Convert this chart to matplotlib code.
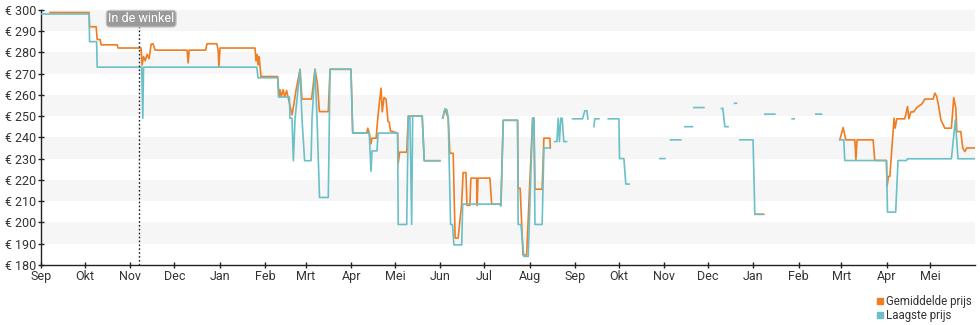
import numpy as np
import pandas as pd
import matplotlib
matplotlib.use("Agg")
import matplotlib.pyplot as plt
import matplotlib.dates as mdates
from matplotlib.lines import Line2D

plt.rcParams['font.family'] = ['Roboto', 'DejaVu Sans']

nan = np.nan
start = pd.Timestamp('2022-09-01')
maanden = ['Jan', 'Feb', 'Mrt', 'Apr', 'Mei', 'Jun', 'Jul', 'Aug', 'Sep', 'Okt', 'Nov', 'Dec']

# dagen sinds 1 sep, nan = geen prijs bekend
dagen_laagste = [
    0, 32.8, 33.1, 37.9, 38.3, 68.7, 69.5, 70.0, 147.4, 148.3, 161.7, 162.3, 169.7, 170.1,
    171.5, 172.4, 173.6, 177.0, 178.3, 180.1, 184.5, 185.2, 187.2, 188.6, 190.3, 196.3,
    197.5, 211.8, 213.0, 224.3, 225.5, 226.2, 229.6, 230.3, 243.7, 244.1, 249.9, 251.0,
    252.1, 253.3, 254.0, 260.5, 261.9, 272.6, 273.5,
    274.5, 276.1, 277.4, 278.3, 279.9, 281.2, 282.2, 287.5, 288.2, 313.6, 314.3, 315.9,
    325.7, 326.1, 328.0, 330.0, 333.0, 336.0, 336.9, 337.6, 342.5, 343.7, 347.8, 349.0,
    351.2, 352.6, 353.5, 354.3, 355.3, 356.2, 357.3, 359.2, 361.0,
    363.3, 370.1, 371.7, 373.1, 373.8, 375.0,
    377.9, 378.5, 381.3, 384.0,
    387.7, 395.0, 395.4, 398.4, 399.7, 402.0, 410.0,
    423.0, 426.4, 428.0,
    430.3, 437.3, 439.0,
    440.0, 445.3, 445.8,
    446.2, 453.1, 460.0,
    465.1, 466.0, 467.4, 469.6, 472.0,
    474.0, 475.4, 476.5,
    477.6, 486.7, 487.9, 493.1, 494.0,
    494.7, 501.6, 508.0,
    513.4, 514.8, 520.0,
    529.6, 533.5, 540.0,
    546.0, 548.7, 549.4, 577.9, 578.6, 584.2, 585.8, 591.5, 592.4, 622.3, 625.0, 626.8,
    638.5,
]
prijs_laagste = [
    298, 298, 285, 285, 273, 273, 249, 273, 273, 268, 268, 259, 259, 249,
    249, 229, 249, 272, 249, 229, 229, 249, 272, 249, 211.7, 211.7,
    272, 272, 242, 242, 224, 233.6, 233.6, 242, 242, 199, 199, 250,
    250, 199, 250, 250, 229, 229, nan,
    249, 253.3, 253, 249, 199, 199, 189.4, 189.4, 208.6, 208.6, 207.8, 248,
    248, 199, 199, 184, 184, 249, 249, 199, 199, 235, 235, nan,
    238, 238, 249, 238, 249, 249, 238, 238, nan,
    248.7, 248.7, 252.5, 252.5, 248.7, nan,
    245, 248.7, 248.7, nan,
    248.7, 248.7, 230, 230, 218, 218, nan,
    230, 230, nan,
    238.8, 238.8, nan,
    245, 245, nan,
    254, 254, nan,
    253.6, 253.6, 245, 245, nan,
    256, 256, nan,
    238.8, 238.8, 203.8, 203.8, nan,
    250.9, 250.9, nan,
    248.7, 248.7, nan,
    250.9, 250.9, nan,
    238.8, 238.8, 229.1, 229.1, 204.8, 204.8, 229.1, 229.1, 229.9, 229.9, 248.2, 229.9,
    229.9,
]

dagen_gemiddeld = [
    6.1, 32.8, 33.1, 37.6, 38.3, 40.3, 41.0, 51.9, 52.6, 68.3, 69.0, 70.0, 71.1, 72.4,
    73.8, 75.2, 76.5, 77.9, 99.8, 100.5, 101.2, 112.4, 113.4, 120.1, 121.0, 121.5, 122.3,
    146.2, 146.9, 147.6, 148.3, 149.0, 150.3, 161.7, 162.6, 163.3, 164.1, 165.4, 166.5,
    167.8, 168.8, 170.1, 171.5, 172.9, 174.2, 177.0, 178.3, 184.9, 187.2, 188.9, 190.2,
    196.3, 197.5, 211.8, 213.0, 222.6, 223.3, 224.3, 225.5, 226.2, 229.0, 230.0, 231.0,
    232.4, 233.2, 234.4, 235.8, 237.1, 238.0, 238.8, 243.7, 244.1, 245.1, 249.9, 251.0,
    260.5, 261.9, 272.6, 273.5,
    274.5, 276.1, 278.3, 279.4, 281.7, 283.0, 285.1, 286.3, 287.4, 288.5, 290.4, 291.1,
    293.1, 293.8, 297.7, 298.1, 298.6, 306.8, 308.0, 313.6, 314.3, 315.9, 325.7, 326.1,
    327.5, 329.4, 331.9, 336.0, 336.9, 337.6, 342.5, 343.7, 347.8, 348.1, 349.0,
    487.9, 494.0, 495.0,
    546.0, 548.3, 550.1, 556.3, 557.0, 557.8, 568.8, 569.9, 577.9, 578.3, 579.3, 580.2,
    583.1, 583.8, 585.0, 590.4, 591.1, 592.3, 593.2, 594.5, 596.6, 598.6, 602.0, 604.1,
    609.8, 611.0, 612.2, 613.5, 615.1, 617.8, 622.3, 623.9, 625.3, 626.0, 628.7, 630.1,
    631.5, 632.8, 638.5,
]
prijs_gemiddeld = [
    298.7, 298.7, 292, 292, 286, 286, 283.5, 283.5, 282, 282, 274, 278, 276, 279,
    277, 283.8, 284, 281, 281, 275, 281, 281, 284, 284, 281, 273, 282,
    282, 276, 279, 274, 278, 268.6, 268.6, 259, 262.4, 259, 262.4, 259,
    262, 259, 255, 250.6, 256, 262, 272, 258, 258, 272, 265, 252.1,
    252.1, 272, 272, 242, 242, 244.3, 242, 237, 239.6, 239.6, 248, 255,
    263.1, 252, 258.7, 258, 247.5, 247, 243, 242, 227.8, 233, 233, 250,
    250, 229, 229, nan,
    249, 253.3, 249, 232.5, 232.5, 192.6, 192.6, 201, 208, 223.4, 223.4, 208,
    208, 220.8, 220.8, 208, 220.8, 220.8, 208.6, 208.6, 207.8, 248, 248, 216,
    216, 184.7, 184.7, 249, 249, 215.6, 215.6, 239.6, 239.6, 235, nan,
    203.8, 203.8, nan,
    238.8, 244.6, 238.8, 238.8, 229.4, 238.8, 238.8, 229.1, 229.1, 216.9, 221.6, 221.6,
    249, 244.3, 248.7, 248.7, 250.6, 254.5, 248.7, 251.9, 252, 254, 255.6, 258,
    258, 260.8, 259.3, 255, 248.2, 244.3, 244.3, 258.7, 253.7, 242.7, 242.7, 234.9,
    233.3, 235, 235,
]

dag_winkel = 67
kleur_gem = '#ef7d22'
kleur_laag = '#6bc0c7'

x0 = mdates.date2num(start)
x_laag = x0 + np.array(dagen_laagste)
x_gem = x0 + np.array(dagen_gemiddeld)

fig = plt.figure(figsize=(9.8, 3.25), dpi=100)
ax = fig.add_axes([0.042, 0.185, 0.953, 0.785])

# grijze banden om de 20 euro
for lo in range(190, 300, 20):
    ax.axhspan(lo, lo + 10, color='#f6f6f6', lw=0, zorder=0)

ax.plot(x_gem, prijs_gemiddeld, color=kleur_gem, lw=1.2, zorder=2)
ax.plot(x_laag, prijs_laagste, color=kleur_laag, lw=1.2, zorder=3)

ax.axvline(x0 + dag_winkel, color='#222222', lw=1, ls=(0, (1.2, 1.6)), zorder=4)
ax.text(x0 + dag_winkel + 1.4, 295.8, 'In de winkel', color='white', fontsize=9,
        ha='center', va='center', zorder=5,
        bbox=dict(boxstyle='round,pad=0.15,rounding_size=0.3', fc='#9a9a9a', ec='#c8c8c8', lw=0.8))

ax.set_ylim(180, 300)
ax.set_xlim(x0, x0 + 638.5)
ax.set_yticks(range(180, 301, 10))
ax.set_yticklabels([f'€ {v}' for v in range(180, 301, 10)])
ax.xaxis.set_major_locator(mdates.MonthLocator())
ax.xaxis.set_major_formatter(plt.FuncFormatter(lambda v, pos: maanden[mdates.num2date(v).month - 1]))

for s in ['top', 'right']:
    ax.spines[s].set_visible(False)
for s in ['left', 'bottom']:
    ax.spines[s].set_color('#222222')
    ax.spines[s].set_linewidth(1)
ax.tick_params(axis='both', direction='inout', length=5, width=1, color='#222222',
               labelsize=9, labelcolor='#333333', pad=1)

handles = [Line2D([], [], ls='', marker='s', ms=5, color=kleur_gem),
           Line2D([], [], ls='', marker='s', ms=5, color=kleur_laag)]
fig.legend(handles, ['Gemiddelde prijs', 'Laagste prijs'], loc='upper left',
           bbox_to_anchor=(871 / 980, 1 - 289 / 325), frameon=False, fontsize=8.3,
           handlelength=0.6, handletextpad=0.2, labelspacing=0.1, borderpad=0,
           labelcolor='#333333')

fig.savefig('out.png', dpi=100)
